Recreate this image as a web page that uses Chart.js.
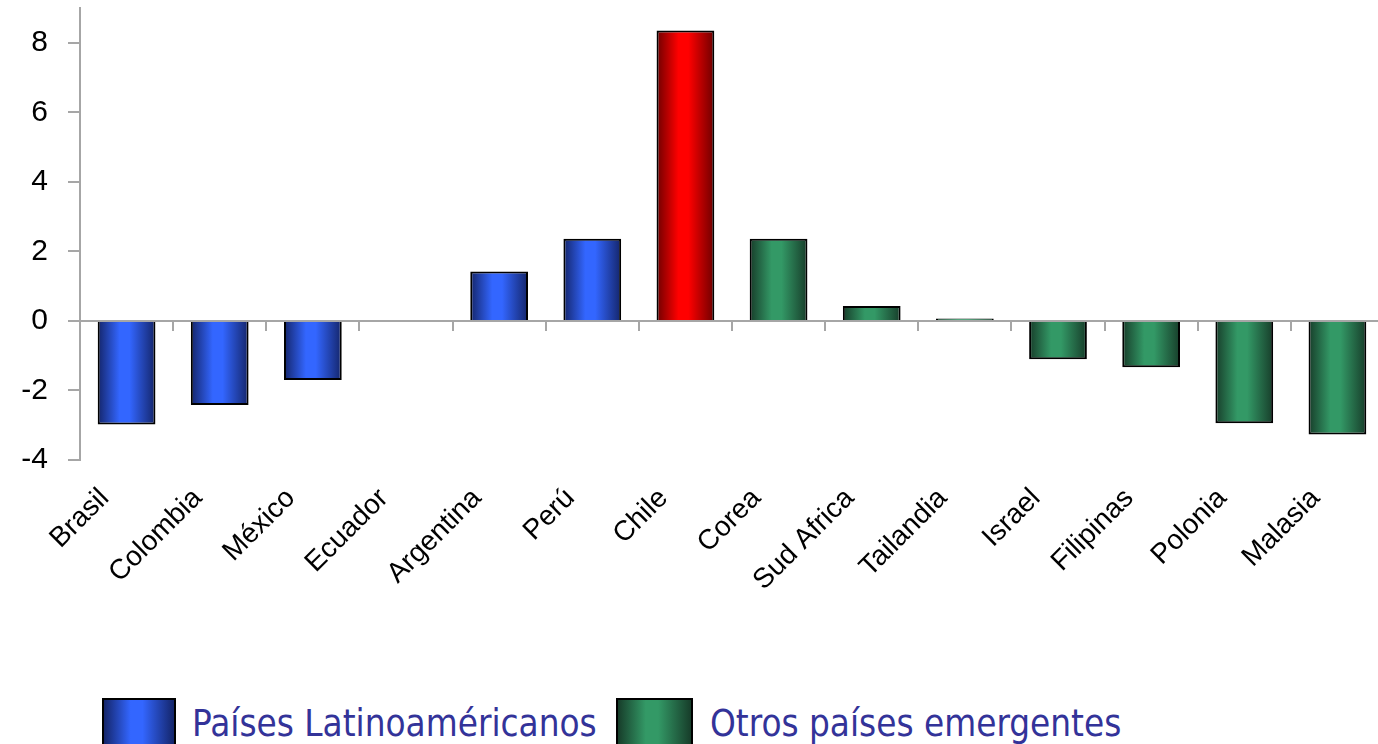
<!DOCTYPE html>
<html>
<head>
<meta charset="utf-8">
<script src="https://cdn.jsdelivr.net/npm/chart.js@4.4.0/dist/chart.umd.min.js"></script>
<style>
  html, body { margin: 0; padding: 0; background: #fff; overflow: hidden; }
  #wrap { position: relative; width: 1384px; height: 690px; }
  .lg-box { position: absolute; top: 698px; height: 52px; border: 2px solid #000; box-sizing: border-box; }
  .lg-text { position: absolute; top: 706px; line-height: 36px; font-size: 36.5px; white-space: nowrap;
             font-family: 'DejaVu Sans Condensed', 'DejaVu Sans', sans-serif; font-stretch: condensed; color: #333399; }
</style>
</head>
<body>
<div id="wrap"><canvas id="chart"></canvas></div>
<div class="lg-box" id="lgLatin" style="left:102px; width:74px;"></div>
<div class="lg-text" id="lgLatinText" style="left:192px;"></div>
<div class="lg-box" id="lgOther" style="left:616px; width:77px;"></div>
<div class="lg-text" id="lgOtherText" style="left:710px;"></div>
<script>
const categories = ['Brasil', 'Colombia', 'México', 'Ecuador', 'Argentina', 'Perú', 'Chile',
  'Corea', 'Sud Africa', 'Tailandia', 'Israel', 'Filipinas', 'Polonia', 'Malasia'];
const latinValues = [-2.98, -2.42, -1.70, null, 1.42, 2.36, 8.35,
  null, null, null, null, null, null, null];
const otherValues = [null, null, null, null, null, null, null,
  2.36, 0.43, 0.07, -1.10, -1.33, -2.94, -3.27];
const seriesNames = ['Países Latinoaméricanos', 'Otros países emergentes'];
const highlight = 'Chile';
const yTicks = [-4, -2, 0, 2, 4, 6, 8];

const BLUE = ['#14256a', '#3366ff'];
const RED = ['#6e0000', '#ff0000'];
const GREEN = ['#173d2a', '#339966'];
const BAR_PCT = 0.62;
const AXIS_GREY = '#a6a6a6';
const FONT = "'Liberation Sans', Arial, sans-serif";

function barFill(ctx, pair) {
  const chart = ctx.chart;
  const xs = chart.scales.x;
  if (!xs || ctx.type !== 'data') return pair[1];
  const cx = xs.getPixelForValue(ctx.dataIndex);
  const half = xs.width / categories.length * BAR_PCT / 2;
  if (!isFinite(cx) || !isFinite(half) || half <= 0) return pair[1];
  const g = chart.ctx.createLinearGradient(cx - half, 0, cx + half, 0);
  g.addColorStop(0, pair[0]);
  g.addColorStop(0.38, pair[1]);
  g.addColorStop(0.55, pair[1]);
  g.addColorStop(1, pair[0]);
  return g;
}

function cssFill(pair) {
  return `linear-gradient(to right, ${pair[0]} 0%, ${pair[1]} 38%, ${pair[1]} 55%, ${pair[0]} 100%)`;
}

// legende en HTML (dégradé + police condensée)
document.getElementById('lgLatin').style.background = cssFill(BLUE);
document.getElementById('lgOther').style.background = cssFill(GREEN);
document.getElementById('lgLatinText').textContent = seriesNames[0];
document.getElementById('lgOtherText').textContent = seriesNames[1];

new Chart(document.getElementById('chart').getContext('2d'), {
  type: 'bar',
  data: {
    labels: categories,
    datasets: [{
      label: seriesNames[0],
      data: latinValues,
      backgroundColor: ctx => barFill(ctx, categories[ctx.dataIndex] === highlight ? RED : BLUE),
      borderColor: '#000',
      borderWidth: 2,
      barPercentage: BAR_PCT,
      categoryPercentage: 1
    }, {
      label: seriesNames[1],
      data: otherValues,
      backgroundColor: ctx => barFill(ctx, GREEN),
      borderColor: '#000',
      borderWidth: 2,
      barPercentage: BAR_PCT,
      categoryPercentage: 1
    }]
  },
  options: {
    responsive: true,
    maintainAspectRatio: false,
    animation: false,
    layout: { padding: { top: 8, left: 0, right: 0, bottom: 0 } },
    plugins: { legend: { display: false }, tooltip: { enabled: false } },
    scales: {
      x: {
        type: 'category',
        stacked: true,
        position: { y: 0 },
        offset: true,
        z: 1,
        grid: { offset: true, drawOnChartArea: false, drawTicks: true, tickLength: 9, color: AXIS_GREY, lineWidth: 2 },
        border: { display: true, color: AXIS_GREY, width: 2 },
        ticks: { display: false },
        afterFit: s => { s.paddingLeft = 0; s.paddingRight = 0; }
      },
      x2: {
        type: 'category',
        labels: categories,
        position: 'bottom',
        offset: true,
        grid: { display: false, drawTicks: false },
        border: { display: false },
        ticks: {
          autoSkip: false, minRotation: 45, maxRotation: 45,
          labelOffset: -22, padding: 22, color: '#000',
          font: { family: FONT, size: 28 }
        },
        afterFit: s => { s.height = 230; s.paddingLeft = 0; s.paddingRight = 0; }
      },
      y: {
        stacked: true,
        min: -4,
        max: 9,
        afterBuildTicks: s => { s.ticks = yTicks.map(v => ({ value: v })); },
        afterFit: s => { s.width = 80; s.paddingTop = 0; s.paddingBottom = 0; },
        grid: { drawOnChartArea: false, tickLength: 12, color: AXIS_GREY, lineWidth: 2 },
        border: { color: AXIS_GREY, width: 2 },
        ticks: { padding: 20, color: '#000', font: { family: FONT, size: 30 } }
      }
    }
  }
});
</script>
</body>
</html>
